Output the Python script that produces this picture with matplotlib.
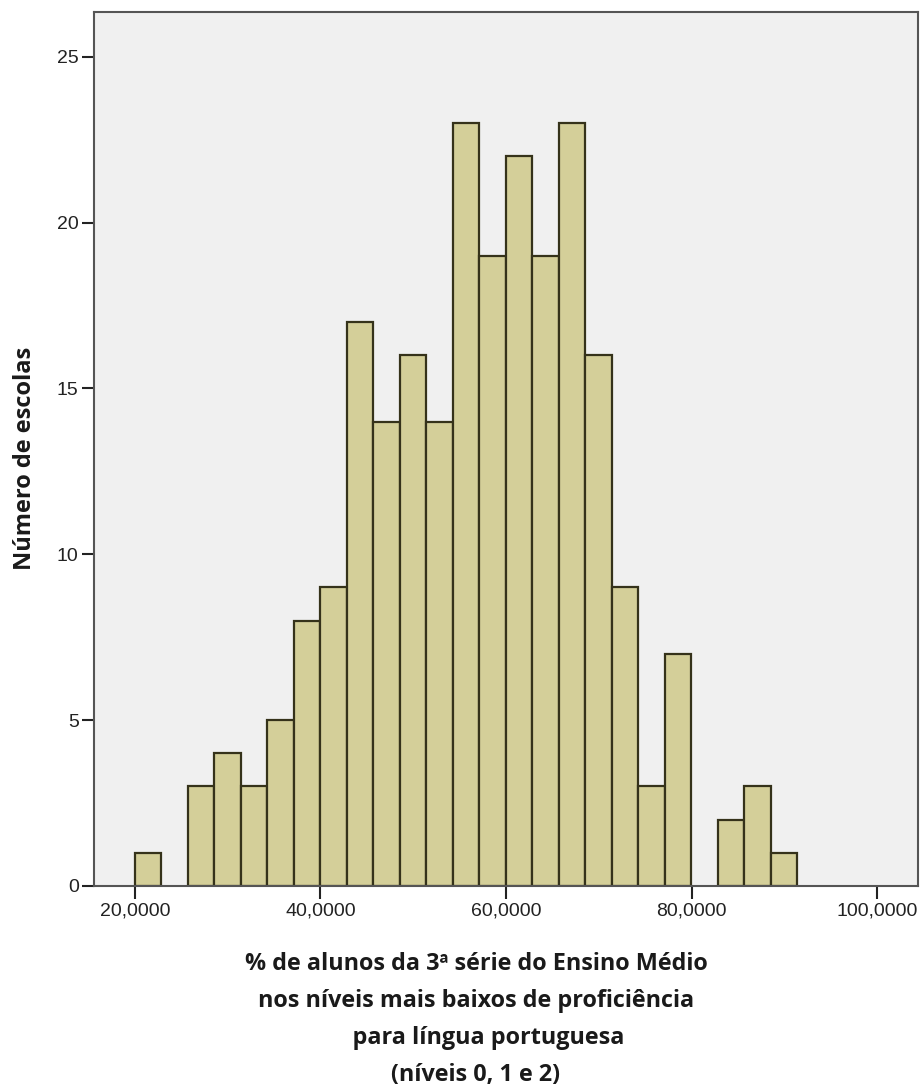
import numpy as np
import matplotlib
matplotlib.use("Agg")
import matplotlib.pyplot as plt
from matplotlib.ticker import FuncFormatter

# Histogram: number of schools per bin of "% of students at the lowest proficiency levels"
bin_start = 20.0
bin_end = 91.4
counts = [1, 0, 3, 4, 3, 5, 8, 9, 17, 14, 16, 14, 23, 19, 22, 19, 23, 16, 9, 3, 7, 0, 2, 3, 1]
x_ticks = [20, 40, 60, 80, 100]
y_ticks = [0, 5, 10, 15, 20, 25]
x_label_lines = [
    "% de alunos da 3ª série do Ensino Médio",
    "nos níveis mais baixos de proficiência",
    "    para língua portuguesa",
    "(níveis 0, 1 e 2)",
]
y_label = "Número de escolas"

edges = np.linspace(bin_start, bin_end, len(counts) + 1)
widths = np.diff(edges)

fig = plt.figure(figsize=(9.24, 10.86), dpi=100)
ax = fig.add_axes([94 / 924, 1 - 886 / 1086, (918 - 94) / 924, (886 - 12) / 1086])
ax.set_facecolor("#f0f0f0")

for left, w, c in zip(edges[:-1], widths, counts):
    if c > 0:
        ax.bar(left, c, width=w, align="edge", color="#d4cf99",
               edgecolor="#35321a", linewidth=1.6, zorder=2)

ax.set_xlim(15.6, 104.4)
ax.set_ylim(0, 26.35)
ax.set_xticks(x_ticks)
ax.set_yticks(y_ticks)
ax.xaxis.set_major_formatter(FuncFormatter(lambda v, p: f"{v:.4f}".replace(".", ",")))

for s in ax.spines.values():
    s.set_color("#555555")
    s.set_linewidth(1.5)
ax.tick_params(axis="x", length=9, width=1.5, color="#222222", labelsize=14,
               labelcolor="#222222", pad=3)
ax.tick_params(axis="y", length=9, width=1.5, color="#222222", labelsize=14,
               labelcolor="#222222", pad=2)
for lab in ax.get_xticklabels() + ax.get_yticklabels():
    lab.set_family("Liberation Sans")

fig.text(25 / 924, 1 - 458 / 1086, y_label, rotation=90, ha="center", va="center",
         fontsize=17, fontweight="bold", family="Open Sans", color="#1a1a1a")

for i, line in enumerate(x_label_lines):
    fig.text(476 / 924, 1 - (964 + 37 * i) / 1086, line, ha="center", va="center",
             fontsize=16.8, fontweight="bold", family="Open Sans", color="#1a1a1a")

fig.savefig("out.png", dpi=100)
